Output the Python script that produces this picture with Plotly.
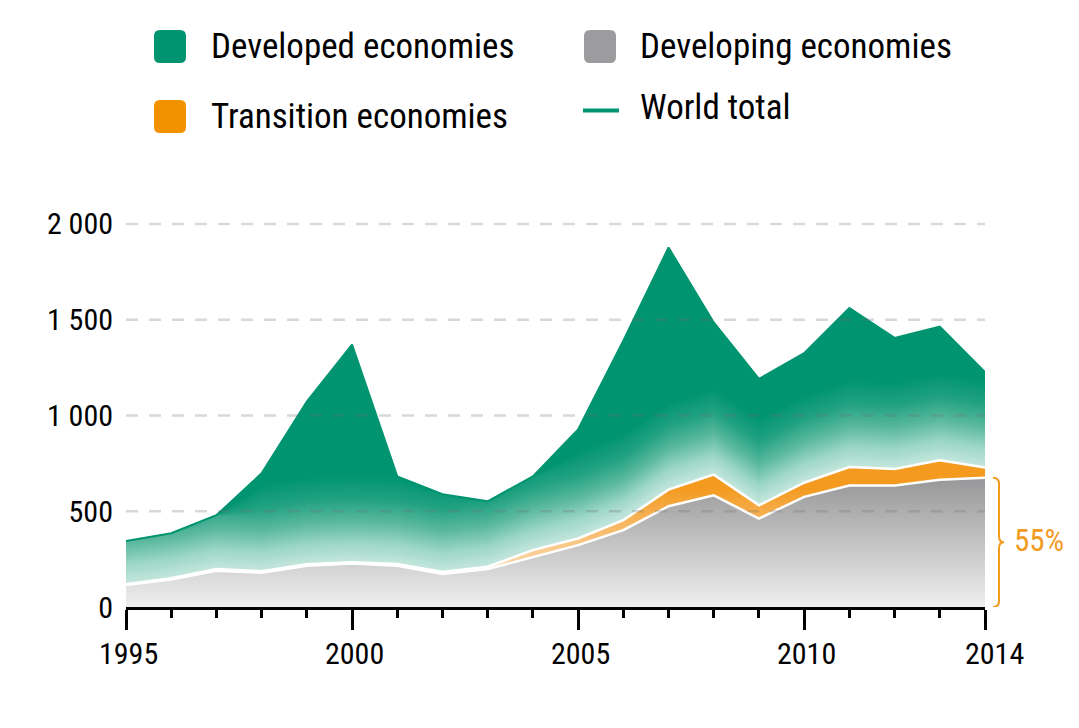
import numpy as np
import plotly.graph_objects as go

years = list(range(1995, 2015))
developing = [115, 144, 189, 179, 215, 227, 215, 172, 198, 262, 323, 401, 526, 583, 462, 575, 634, 634, 665, 675]
transition = [4, 6, 9, 8, 8, 7, 9, 11, 12, 35, 35, 52, 87, 108, 69, 74, 97, 87, 101, 53]
developed = [225, 235, 281, 511, 850, 1136, 458, 406, 342, 385, 569, 938, 1264, 795, 660, 676, 830, 684, 698, 498]
y_ticks = [0, 500, 1000, 1500, 2000]
y_ticktext = ["0", "500", "1 000", "1 500", "2 000"]
x_major = [1995, 2000, 2005, 2010, 2014]

GREEN = "#009470"
GRAY = "#9c9c9e"
ORANGE = "#f39200"
FONT = "Roboto Condensed, Roboto, sans-serif"

W, H = 1079, 728
L, R, T, B = 126, 94, 205, 121
PW, PH = W - L - R, H - T - B
YMAX = 2099


def px(xp):
    return (xp - L) / PW


def py(yp):
    return (H - B - yp) / PH


def hex2rgb(h):
    h = h.lstrip("#")
    return np.array([int(h[i:i + 2], 16) for i in (0, 2, 4)], dtype=float)


# colour of the developed band as a function of depth above its lower edge
depth_stops = [0, 100, 210, 330, 460]
depth_cols = [hex2rgb(c) for c in ["#c6e7de", "#9dd7c7", "#5cb9a0", "#22a282", GREEN]]


def depth_color(d):
    d = min(max(d, 0), depth_stops[-1])
    for k in range(len(depth_stops) - 1):
        if d <= depth_stops[k + 1]:
            f = (d - depth_stops[k]) / (depth_stops[k + 1] - depth_stops[k])
            c = depth_cols[k] * (1 - f) + depth_cols[k + 1] * f
            return "rgb(%d,%d,%d)" % tuple(np.round(c))
    return GREEN


cum1 = np.array(developing)
cum2 = cum1 + np.array(transition)
cum3 = cum2 + np.array(developed)

fig = go.Figure()
fig.add_trace(go.Scatter(
    x=years, y=cum1, mode="lines", fill="tozeroy",
    line=dict(color="white", width=0),
    fillgradient=dict(type="vertical", colorscale=[[0, "#efefef"], [1, "#959597"]], start=0, stop=690),
    showlegend=False, hoverinfo="skip"))
fig.add_trace(go.Scatter(
    x=years, y=cum2, mode="lines", fill="tonexty",
    line=dict(color="white", width=0),
    fillgradient=dict(type="vertical", colorscale=[[0, "#fad3a1"], [1, "#f39a1f"]], start=250, stop=620),
    showlegend=False, hoverinfo="skip"))
fig.add_trace(go.Scatter(
    x=years, y=cum3, mode="lines", fill="tonexty",
    line=dict(color=GREEN, width=0), fillcolor=GREEN,
    showlegend=False, hoverinfo="skip"))

# graded glow along the lower edge of the developed band (drawn deepest first)
xs_poly = years + years[::-1]
for c in range(460, 0, -8):
    top = np.minimum(cum2 + c, cum3)
    fig.add_trace(go.Scatter(
        x=xs_poly, y=list(top) + list(cum2[::-1]), mode="lines", fill="toself",
        line=dict(width=0), fillcolor=depth_color(c - 4),
        showlegend=False, hoverinfo="skip"))

fig.add_trace(go.Scatter(x=years, y=cum1, mode="lines", line=dict(color="white", width=2.5),
                         showlegend=False, hoverinfo="skip"))
fig.add_trace(go.Scatter(x=years, y=cum2, mode="lines", line=dict(color="white", width=2.5),
                         showlegend=False, hoverinfo="skip"))
fig.add_trace(go.Scatter(x=years, y=cum3, mode="lines", line=dict(color=GREEN, width=2),
                         showlegend=False, hoverinfo="skip"))

shapes = []
for v in y_ticks[1:]:
    shapes.append(dict(type="line", xref="paper", yref="y", x0=0, x1=1, y0=v, y1=v,
                       line=dict(color="rgba(110,110,110,0.27)", width=2.5, dash="12px,11px"),
                       layer="above"))


def rbox(xc, yc, color, w=32, h=33, r=6):
    hw, hh = w / 2, h / 2
    path = (f"M {-hw + r},{-hh} L {hw - r},{-hh} Q {hw},{-hh} {hw},{-hh + r} "
            f"L {hw},{hh - r} Q {hw},{hh} {hw - r},{hh} L {-hw + r},{hh} "
            f"Q {-hw},{hh} {-hw},{hh - r} L {-hw},{-hh + r} Q {-hw},{-hh} {-hw + r},{-hh} Z")
    return dict(type="path", xref="paper", yref="paper", xsizemode="pixel", ysizemode="pixel",
                xanchor=px(xc), yanchor=py(yc), path=path, fillcolor=color,
                line=dict(width=0))


shapes.append(rbox(170, 46.5, GREEN))
shapes.append(rbox(600, 46.5, GRAY))
shapes.append(rbox(170, 116.5, ORANGE))
shapes.append(dict(type="line", xref="paper", yref="paper", x0=px(583), x1=px(619),
                   y0=py(110.5), y1=py(110.5), line=dict(color=GREEN, width=4)))

share_top = developing[-1]
hh = share_top * PH / YMAX / 2
brace = (f"M -10,{hh} Q -4,{hh} -4,{hh - 6} L -4,6 Q -4,0 1,0 Q -4,0 -4,-6 "
         f"L -4,{-hh + 6} Q -4,{-hh} -10,{-hh}")
shapes.append(dict(type="path", xref="paper", yref="y", xsizemode="pixel", ysizemode="pixel",
                   xanchor=px(1003), yanchor=share_top / 2, path=brace,
                   line=dict(color="#f39a1f", width=2)))

share = round(100 * developing[-1] / cum3[-1])

annotations = []


def label(text, xl, yc, size=35, color="black"):
    annotations.append(dict(text=text, xref="paper", yref="paper", x=px(xl), y=py(yc),
                            xanchor="left", yanchor="middle", showarrow=False,
                            font=dict(family=FONT, size=size, color=color)))


label("Developed economies", 209, 47)
label("Developing economies", 638, 47)
label("Transition economies", 209, 116)
label("World total", 638, 108)
label(f"{share}%", 1012, 540, size=31, color="#f39a1f")

# x tick labels (last one sits slightly right of its tick, as in the original)
for yr in x_major:
    annotations.append(dict(text=str(yr), xref="x", yref="paper", x=yr, y=py(653),
                            xanchor="center", yanchor="middle", showarrow=False,
                            xshift=9 if yr == x_major[-1] else 2,
                            font=dict(family=FONT, size=30, color="black")))

fig.update_layout(
    width=W, height=H,
    margin=dict(l=L, r=R, t=T, b=B, pad=0),
    paper_bgcolor="white", plot_bgcolor="white",
    shapes=shapes, annotations=annotations,
    font=dict(family=FONT, size=30, color="black"),
    xaxis=dict(range=[1995, 2014], tickvals=x_major, showticklabels=False,
               showgrid=False, zeroline=False, showline=True, linecolor="black", linewidth=3,
               ticks="outside", ticklen=20, tickwidth=3, tickcolor="black",
               minor=dict(dtick=1, tick0=1995, ticks="outside", ticklen=8, tickwidth=2.5,
                          tickcolor="black", showgrid=False)),
    yaxis=dict(range=[0, YMAX], tickvals=y_ticks, ticktext=y_ticktext,
               showgrid=False, zeroline=False, showline=False, ticks="",
               ticklabelstandoff=12,
               tickfont=dict(family=FONT, size=30, color="black")),
)

fig.write_html("out.html")
